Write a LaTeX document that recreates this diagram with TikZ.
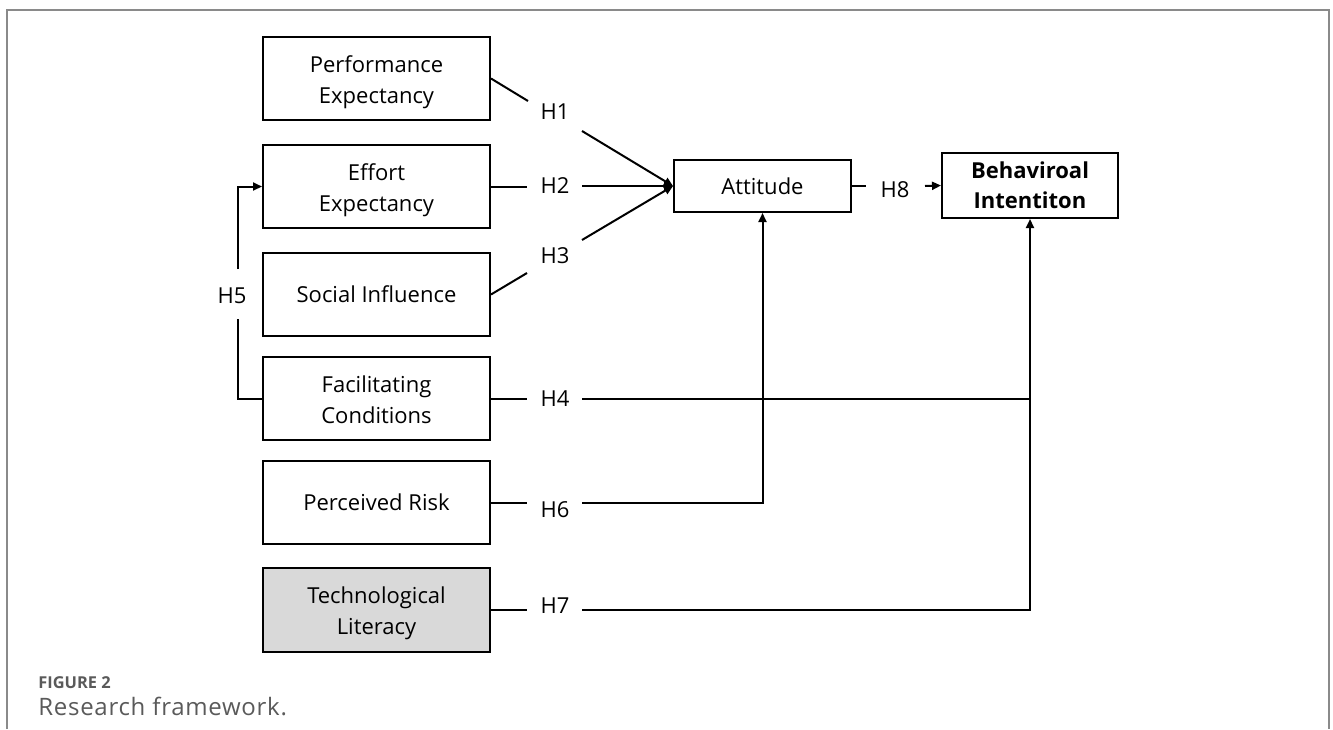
\documentclass[tikz,border=0pt]{standalone}
\usepackage{fontspec}
\setmainfont{Open Sans}
\newfontfamily\capfont[LetterSpace=3]{Open Sans}
\usetikzlibrary{arrows.meta}
\definecolor{framegray}{HTML}{8A8A8A}
\definecolor{capgray}{HTML}{5A5A5A}
\definecolor{boxfill}{HTML}{D9D9D9}
\newcommand{\mytwo}[2]{\rule{0pt}{13.3pt}#1\\#2\rule[-4pt]{0pt}{0pt}}
\tikzset{
  fbox/.style={draw=black, line width=1pt, minimum width=113.5pt, minimum height=41.5pt,
    align=center, font=\fontsize{11}{15.5}\selectfont, inner sep=0pt},
  hlab/.style={font=\fontsize{11}{13}\selectfont, inner sep=0pt},
  conn/.style={line width=1pt, black},
  arr/.style={conn, -{Triangle[length=4.5pt,width=4pt]}},
}
\begin{document}
\begin{tikzpicture}[x=0.5pt,y=-0.5pt]
\useasboundingbox (0,0) rectangle (1333,729);
% frame
\draw[framegray, line width=0.8pt] (7,729) -- (7,10) -- (1329,10) -- (1329,729);
% left boxes
\node[fbox] (pe) at (376.5,78.5) {\mytwo{Performance}{Expectancy}};
\node[fbox] (ee) at (376.5,186.5) {\mytwo{Effort}{Expectancy}};
\node[fbox] (si) at (376.5,294.5) {Social Influence};
\node[fbox] (fc) at (376.5,398.5) {\mytwo{Facilitating}{Conditions}};
\node[fbox] (pr) at (376.5,502.5) {Perceived Risk};
\node[fbox, fill=boxfill, minimum height=42pt] (tl) at (376.5,610) {\mytwo{Technological}{Literacy}};
\node[fbox, minimum width=88.5pt, minimum height=26pt] (att) at (762.5,186) {Attitude};
\node[fbox, minimum width=88pt, minimum height=32.5pt, font=\fontsize{11}{15}\selectfont\bfseries] (bi) at (1030,185.5) {Behaviroal\\Intentiton};
% labels
\node[hlab] (h1) at (555,112) {H1};
\node[hlab] (h2) at (555,186) {H2};
\node[hlab] (h3) at (555,256) {H3};
\node[hlab] (h4) at (555,399) {H4};
\node[hlab] (h5) at (232,296) {H5};
\node[hlab] (h6) at (555,510) {H6};
\node[hlab] (h7) at (555,606) {H7};
\node[hlab] (h8) at (895,190) {H8};
% break points
\coordinate (h1a) at (528,101); \coordinate (h1b) at (582,131);
\coordinate (h2a) at (527,186.5); \coordinate (h2b) at (582,186);
\coordinate (h3a) at (527,273); \coordinate (h3b) at (582,240);
\coordinate (h4a) at (527,398.5); \coordinate (h4b) at (582,398.5);
\coordinate (j4) at (1030,398.5);
\coordinate (h5a) at (238,319); \coordinate (h5b) at (238,269);
\coordinate (h6a) at (527,502.5); \coordinate (h6b) at (582,502.5);
\coordinate (h7a) at (527,610); \coordinate (h7b) at (582,610);
\coordinate (h8a) at (866,186); \coordinate (h8b) at (925,186);
% connectors
\draw[conn] (pe.east) -- (h1a);
\draw[arr] (h1b) -- (att.west);
\draw[conn] (ee.east) -- (h2a);
\draw[arr] (h2b) -- (att.west);
\draw[conn] (si.east) -- (h3a);
\draw[arr] (h3b) -- (att.west);
\draw[conn] (fc.east) -- (h4a);
\draw[conn] (h4b) -- (j4);
\draw[conn] (fc.west) -| (h5a);
\draw[arr] (h5b) |- (ee.west);
\draw[conn] (pr.east) -- (h6a);
\draw[arr] (h6b) -| (att.south);
\draw[conn] (tl.east) -- (h7a);
\draw[arr] (h7b) -| (bi.south);
\draw[conn] (att.east) -- (h8a);
\draw[arr] (h8b) -- (bi.west);
% caption
\node[anchor=west, text=capgray, font=\fontsize{8.2}{10}\selectfont\bfseries, inner sep=0pt] (cap1) at (38,683) {FIGURE 2};
\node[anchor=west, text=capgray, font=\capfont\fontsize{12}{14}\selectfont, inner sep=0pt] (cap2) at (38,706) {Research framework.};
\end{tikzpicture}
\end{document}
